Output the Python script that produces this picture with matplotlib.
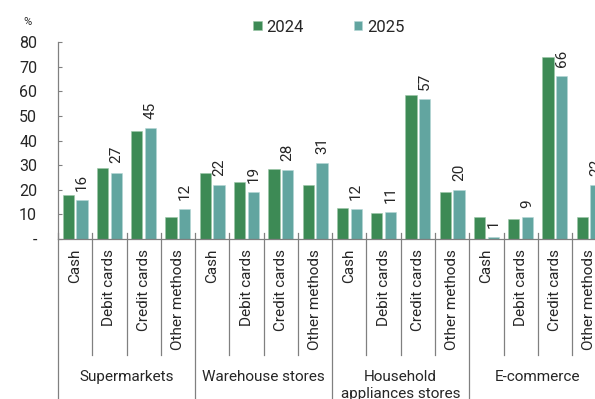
import matplotlib
matplotlib.use("Agg")
import matplotlib.pyplot as plt
from matplotlib.transforms import blended_transform_factory

plt.rcParams["font.family"] = ["Roboto", "DejaVu Sans"]

groups = ["Supermarkets", "Warehouse stores", "Household\nappliances stores", "E-commerce"]
methods = ["Cash", "Debit cards", "Credit cards", "Other methods"]
years = ["2024", "2025"]
share_2024 = [18, 29, 44, 9, 27, 23, 28.5, 22, 12.5, 10.5, 58.5, 19, 9, 8, 74, 9]
share_2025 = [16, 27, 45, 12, 22, 19, 28, 31, 12, 11, 57, 20, 1, 9, 66, 22]
yticks = [0, 10, 20, 30, 40, 50, 60, 70, 80]
ytick_labels = ["-", "10", "20", "30", "40", "50", "60", "70", "80"]

C24 = "#3d8a55"
C25 = "#62a5a0"
TXT = "#262626"
AX = "#808080"

fig = plt.figure(figsize=(5.95, 3.99), dpi=100)
ax = fig.add_axes([0.0975, 0.401, 0.9216, 0.4937])

n = len(share_2024)
xs = list(range(n))
w = 0.33
ax.bar([x - 0.2 for x in xs], share_2024, width=w, color=C24,
       edgecolor="#9cc7a8", linewidth=0.4, label=years[0])
ax.bar([x + 0.2 for x in xs], share_2025, width=w, color=C25,
       edgecolor="#b5d8d5", linewidth=0.4, label=years[1])

# values for the latest year, written above its bars
for x, v in zip(xs, share_2025):
    ax.annotate(f"{v:g}", (x + 0.2, v), xytext=(0, 6.5), textcoords="offset points",
                rotation=90, ha="center", va="bottom", fontsize=11, color=TXT)

ax.set_xlim(-0.5, n - 0.5)
ax.set_ylim(0, 80)
ax.set_yticks(yticks)
ax.set_yticklabels(ytick_labels)
ax.tick_params(axis="y", direction="in", length=3, width=0.8, color=AX,
               pad=15, labelsize=11.5, labelcolor=TXT)

ax.set_xticks(xs)
ax.set_xticklabels(methods * len(groups), rotation=90, fontsize=11, color=TXT)
ax.tick_params(axis="x", length=0, pad=7)

for s in ["top", "right"]:
    ax.spines[s].set_visible(False)
for s in ["left", "bottom"]:
    ax.spines[s].set_color(AX)
    ax.spines[s].set_linewidth(0.9)

# separators under the axis: short ones between methods, long ones between groups
tr = blended_transform_factory(ax.transData, ax.transAxes)
for k in range(n + 1):
    xb = k - 0.5
    if k % 4 == 0:
        ax.plot([xb, xb], [0.03, -0.9], transform=tr, color=AX, lw=0.9, clip_on=False)
    else:
        ax.plot([xb, xb], [0.03, -0.589], transform=tr, color=AX, lw=0.9, clip_on=False)

for g, name in enumerate(groups):
    ax.text(g * 4 + 1.5, -0.665, name, transform=tr, ha="center", va="top",
            fontsize=11, color=TXT, linespacing=1.3)

fig.text(28 / 595, 1 - 22 / 399, "%", ha="center", va="center", fontsize=8, color=TXT)

fig.legend(loc="center", bbox_to_anchor=(0.553, 0.932), ncol=2, frameon=False,
           fontsize=12, handlelength=0.5, handleheight=0.5, handletextpad=0.3,
           columnspacing=3.0, borderpad=0, labelcolor=TXT)

fig.savefig("out.png", dpi=100)
